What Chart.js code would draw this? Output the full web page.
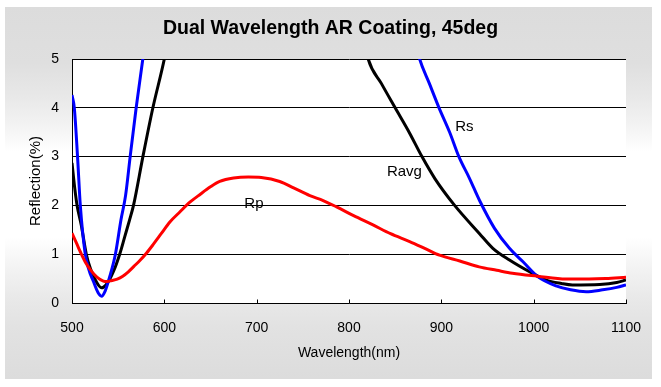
<!DOCTYPE html>
<html>
<head>
<meta charset="utf-8">
<script src="https://cdn.jsdelivr.net/npm/chart.js@4.4.1/dist/chart.umd.min.js"></script>
<style>
  html, body { margin: 0; padding: 0; background: #fff; }
  #wrap { width: 661px; height: 387px; }
</style>
</head>
<body>
<div id="wrap"><canvas id="chart" width="661" height="387"></canvas></div>
<script>
// Rs (s-polarised), wavelength in nm and reflection in %
const rsWave = [500, 502.5, 506, 509, 514, 518, 523, 528, 532, 536, 541, 547, 553, 558, 563, 569.5, 576.7, 585,
  870, 876.5, 887, 897.5, 909, 919, 930.6, 941.4, 957.6, 973.8, 988.2, 1004.4, 1024.3, 1040, 1056.8, 1074.7, 1090, 1100];
const rsRefl = [4.26, 4.0, 3.0, 2.0, 1.05, 0.7, 0.45, 0.22, 0.14, 0.25, 0.55, 1.0, 1.7, 2.2, 3.0, 4.0, 5.0, 6.2,
  5.5, 5.0, 4.5, 4.0, 3.5, 3.0, 2.55, 2.1, 1.53, 1.12, 0.85, 0.54, 0.35, 0.27, 0.23, 0.27, 0.32, 0.37];

// Ravg
const ravgWave = [500, 503, 505.5, 510, 515.5, 520, 525, 532, 538, 545, 552, 557, 562.3, 566.6, 576.8, 587.6, 600, 610,
  810, 820.8, 835, 850, 865.7, 879, 893, 914.4, 941.4, 955.8, 973.8, 995.5, 1013.5, 1030, 1042, 1071.6, 1090, 1100];
const ravgRefl = [2.87, 2.35, 2.0, 1.6, 1.0, 0.7, 0.48, 0.31, 0.4, 0.65, 1.02, 1.35, 1.7, 2.0, 3.0, 4.0, 5.0, 6.0,
  6.0, 5.0, 4.5, 4.0, 3.48, 3.0, 2.55, 2.0, 1.42, 1.12, 0.88, 0.64, 0.47, 0.4, 0.37, 0.38, 0.42, 0.47];

// Rp (p-polarised)
const rpWave = [500, 505, 509, 515, 520, 527, 534, 538, 543, 549, 555, 561, 567, 574, 581, 588, 597, 606, 617, 628,
  639, 650, 660, 675, 691, 705, 725, 740, 757.6, 772, 786.5, 805, 826, 845, 865.7, 882, 898, 920, 941, 960, 977,
  1004, 1035, 1060, 1078, 1100];
const rpRefl = [1.43, 1.22, 1.05, 0.82, 0.68, 0.53, 0.45, 0.44, 0.46, 0.49, 0.55, 0.64, 0.75, 0.88, 1.03, 1.2, 1.43, 1.66, 1.87, 2.07,
  2.23, 2.38, 2.49, 2.56, 2.58, 2.57, 2.49, 2.36, 2.2, 2.1, 1.97, 1.79, 1.6, 1.42, 1.26, 1.12, 0.98, 0.86, 0.74, 0.67, 0.61,
  0.55, 0.49, 0.49, 0.5, 0.53];

const xTicks = [500, 600, 700, 800, 900, 1000, 1100];
const yTicks = [0, 1, 2, 3, 4, 5];

// in-plot series names (data coordinates)
const seriesNames = ['Rs', 'Ravg', 'Rp'];
const nameWave = [925, 860, 697];
const nameRefl = [3.61, 2.68, 2.03];

const FONT = "'Liberation Sans', Arial, sans-serif";

const toPoints = (xs, ys) => xs.map((x, i) => ({ x: x, y: ys[i] }));

const backdrop = {
  id: 'backdrop',
  beforeDraw(chart) {
    const { ctx, chartArea } = chart;
    ctx.save();
    ctx.fillStyle = '#ffffff';
    ctx.fillRect(0, 0, chart.width, chart.height);
    const g = ctx.createLinearGradient(0, 7, 0, 379);
    g.addColorStop(0, '#dcdcdc');
    g.addColorStop(0.15, '#dfdfdf');
    g.addColorStop(0.24, '#e8e8e8');
    g.addColorStop(0.32, '#f3f3f3');
    g.addColorStop(0.39, '#ffffff');
    g.addColorStop(0.62, '#ffffff');
    g.addColorStop(0.7, '#f3f3f3');
    g.addColorStop(0.78, '#e9e9e9');
    g.addColorStop(0.86, '#e2e2e2');
    g.addColorStop(1, '#dcdcdc');
    ctx.fillStyle = g;
    ctx.fillRect(5, 7, 647, 372);
    ctx.fillStyle = '#ffffff';
    ctx.fillRect(chartArea.left, chartArea.top, chartArea.right - chartArea.left, chartArea.bottom - chartArea.top);
    ctx.restore();
  }
};

const extras = {
  id: 'extras',
  afterDatasetsDraw(chart) {
    const { ctx } = chart;
    const xs = chart.scales.x, ys = chart.scales.y;
    ctx.save();
    // small upward tick marks on the x axis
    ctx.strokeStyle = '#000';
    ctx.lineWidth = 1;
    const yb = Math.round(ys.getPixelForValue(0)) + 0.5;
    xTicks.forEach(v => {
      const px = Math.round(xs.getPixelForValue(v)) + 0.5;
      ctx.beginPath();
      ctx.moveTo(px, yb);
      ctx.lineTo(px, yb - 4);
      ctx.stroke();
    });
    // series names
    ctx.fillStyle = '#000';
    ctx.font = '15px ' + FONT;
    ctx.textAlign = 'center';
    ctx.textBaseline = 'middle';
    seriesNames.forEach((name, i) => {
      ctx.fillText(name, xs.getPixelForValue(nameWave[i]), ys.getPixelForValue(nameRefl[i]));
    });
    ctx.restore();
  }
};

new Chart(document.getElementById('chart'), {
  type: 'scatter',
  data: {
    datasets: [
      { label: 'Rp', data: toPoints(rpWave, rpRefl), borderColor: '#ff0000' },
      { label: 'Rs', data: toPoints(rsWave, rsRefl), borderColor: '#0000ff' },
      { label: 'Ravg', data: toPoints(ravgWave, ravgRefl), borderColor: '#000000' }
    ].map(d => Object.assign(d, {
      showLine: true,
      borderWidth: 3,
      pointRadius: 0,
      cubicInterpolationMode: 'monotone',
      fill: false
    }))
  },
  options: {
    responsive: false,
    animation: false,
    events: [],
    layout: { padding: 0 },
    plugins: {
      legend: { display: false },
      tooltip: { enabled: false },
      title: {
        display: true,
        text: 'Dual Wavelength AR Coating, 45deg',
        color: '#000',
        font: { family: FONT, size: 19.5, weight: 'bold' },
        padding: { top: 17, bottom: 18.6 }
      }
    },
    scales: {
      x: {
        type: 'linear',
        min: 500,
        max: 1100,
        afterFit: s => { s.height = 84; },
        afterBuildTicks: s => { s.ticks = xTicks.map(v => ({ value: v })); },
        grid: { display: false, drawTicks: false },
        border: { display: true, color: '#000', width: 1, dash: [3, 2] },
        ticks: {
          color: '#000',
          padding: 17,
          maxRotation: 0,
          font: { family: FONT, size: 14 },
          callback: v => String(v)
        },
        title: {
          display: true,
          text: 'Wavelength(nm)',
          color: '#000',
          font: { family: FONT, size: 14 },
          padding: { top: 0, bottom: 25 }
        }
      },
      y: {
        min: 0,
        max: 5,
        afterFit: s => { s.width = 72; },
        afterBuildTicks: s => { s.ticks = yTicks.map(v => ({ value: v })); },
        grid: {
          drawTicks: false,
          color: c => (c.tick && c.tick.value === 0 ? 'rgba(0,0,0,0)' : '#000'),
          lineWidth: 1
        },
        border: { display: true, color: '#000', width: 1 },
        ticks: { color: '#000', padding: 13, font: { family: FONT, size: 14 }, callback: v => String(v) },
        title: {
          display: true,
          text: 'Reflection(%)',
          color: '#000',
          font: { family: FONT, size: 15 },
          padding: { top: 27, bottom: 0 }
        }
      },
      // empty right-hand axis that only reserves the margin right of the plot
      yRight: {
        type: 'linear',
        position: 'right',
        display: true,
        min: 0,
        max: 5,
        afterFit: s => { s.width = 35; },
        grid: { display: false, drawTicks: false },
        border: { display: false },
        ticks: { display: false }
      }
    }
  },
  plugins: [backdrop, extras]
});
</script>
</body>
</html>
